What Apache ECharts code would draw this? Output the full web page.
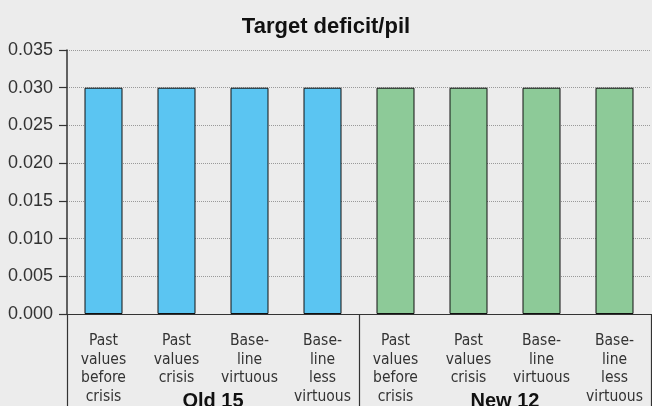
<!DOCTYPE html>
<html>
<head>
<meta charset="utf-8">
<script src="https://cdn.jsdelivr.net/npm/echarts@6/dist/echarts.min.js"></script>
<style>
  html, body { margin: 0; padding: 0; background: #ececec; }
  #chart { width: 652px; height: 406px; }
</style>
</head>
<body>
<div id="chart"></div>
<script>
// values
var categories = [
  'Past\nvalues\nbefore\ncrisis', 'Past\nvalues\ncrisis', 'Base-\nline\nvirtuous', 'Base-\nline\nless\nvirtuous',
  'Past\nvalues\nbefore\ncrisis', 'Past\nvalues\ncrisis', 'Base-\nline\nvirtuous', 'Base-\nline\nless\nvirtuous'
];
var groups = ['Old 15', 'New 12'];
var groupOf = [0, 0, 0, 0, 1, 1, 1, 1];
var targetDeficit = [0.03, 0.03, 0.03, 0.03, 0.03, 0.03, 0.03, 0.03];
var yTicks = { min: 0, max: 0.035, step: 0.005 };

var groupColors = ['#5bc5f2', '#8dca98'];
var ink = '#333';
var narrow = '"DejaVu Sans Condensed", "Liberation Sans Narrow", sans-serif';
var sans = '"Liberation Sans", Arial, sans-serif';

var chart = echarts.init(document.getElementById('chart'), null, { renderer: 'canvas' });
chart.setOption({
  backgroundColor: '#ececec',
  animation: false,
  title: {
    text: 'Target deficit/pil',
    left: 'center',
    top: 11,
    textStyle: { fontFamily: sans, fontSize: 22, fontWeight: 'bold', color: '#111' }
  },
  // labels run off the bottom edge in the original, so don't let the grid shrink
  grid: { left: 67, right: 1, top: 50, bottom: 92, outerBoundsMode: 'none' },
  xAxis: [{
    type: 'category',
    data: categories,
    axisLine: { lineStyle: { color: ink, width: 1.2 } },
    axisTick: { length: 6, lineStyle: { color: ink, width: 1.2 } },
    axisLabel: {
      interval: 0, margin: 18, color: ink,
      fontFamily: narrow, fontSize: 15.5, lineHeight: 18.5
    }
  }, {
    type: 'category',
    position: 'bottom',
    data: groups,
    axisLine: { show: true, lineStyle: { color: ink, width: 1.2 } },
    axisTick: { show: true, length: 92, lineStyle: { color: ink, width: 1.2 } },
    axisLabel: {
      margin: 77, color: '#111',
      fontFamily: sans, fontSize: 20, fontWeight: 'bold'
    }
  }],
  yAxis: {
    type: 'value',
    min: yTicks.min,
    max: yTicks.max,
    interval: yTicks.step,
    axisLine: { show: true, lineStyle: { color: ink, width: 1.5 } },
    axisTick: { show: true, length: 8, lineStyle: { color: ink, width: 1.2 } },
    axisLabel: {
      margin: 14, color: ink, fontFamily: sans, fontSize: 18,
      formatter: function (v) { return v.toFixed(3); }
    },
    splitLine: { lineStyle: { color: '#999', type: 'dotted', width: 1 } }
  },
  series: [{
    type: 'bar',
    xAxisIndex: 0,
    barWidth: 38,
    data: targetDeficit.map(function (v, i) {
      return {
        value: v,
        itemStyle: { color: groupColors[groupOf[i]], borderColor: '#111', borderWidth: 1 }
      };
    })
  }]
});
</script>
</body>
</html>
